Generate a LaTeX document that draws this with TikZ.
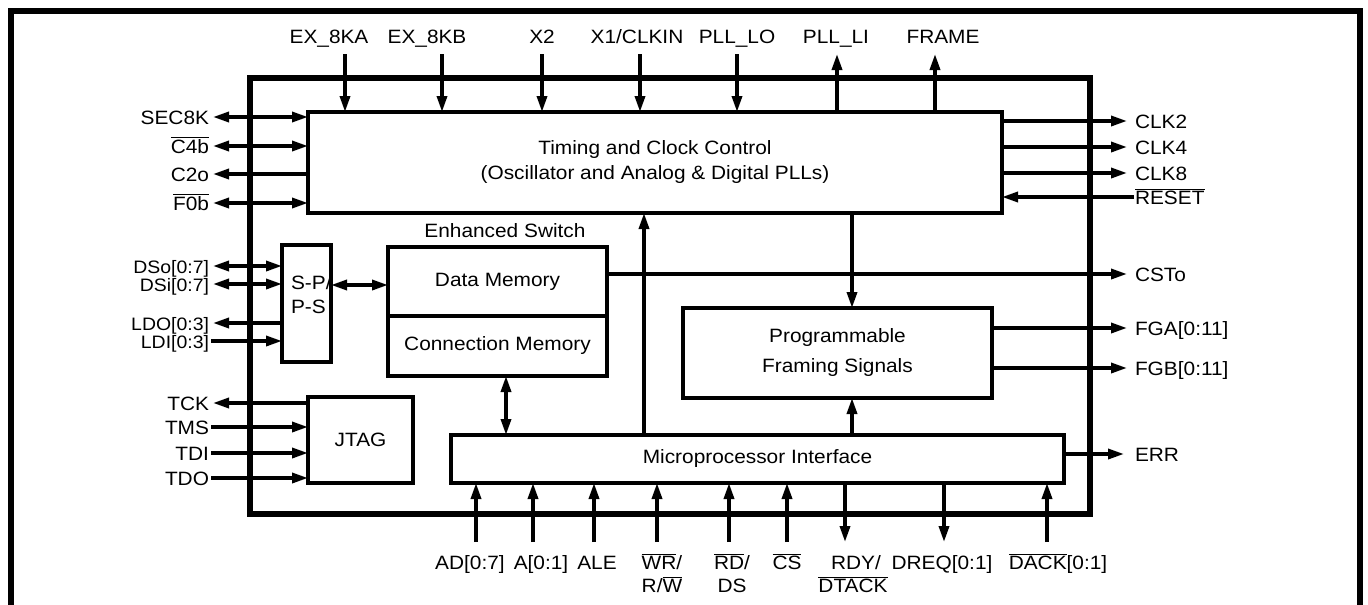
\documentclass[tikz,border=0pt]{standalone}
\usepackage{fontspec}
\setmainfont{Liberation Sans}[FakeStretch=1.08]
\usetikzlibrary{arrows.meta}
\newcommand{\inv}[1]{$\overline{\mbox{#1}}$}

\begin{document}
\begin{tikzpicture}[x=1pt, y=-1pt,
  every node/.style={font=\fontsize{19.3}{25}\selectfont, inner sep=0pt, outer sep=0pt},
  blk/.style={draw, line width=4.5pt, anchor=north west, align=center},
  pin/.style={text height=14pt, text depth=0pt},
  buspin/.style={pin, anchor=east, font=\fontsize{18}{20}\selectfont},
  sig/.style={line width=3.4pt, -{Triangle[length=16pt,width=10pt]}},
  bi/.style={line width=3.4pt, {Triangle[length=16pt,width=10pt]}-{Triangle[length=16pt,width=10pt]}}]
\useasboundingbox (0,0) rectangle (1368,605);
% frame and chip outline
\draw[line width=5.5pt] (11,620) -- (11,11) -- (1360,11) -- (1360,620);
\draw[line width=5.5pt] (250,78) rectangle (1090,514);

% blocks
\node[blk, minimum width=694pt, minimum height=101pt] (tcc) at (308,112) {Timing and Clock Control\\(Oscillator and Analog \& Digital PLLs)};
\node (esw) at (505,231) {Enhanced Switch};
\node[blk, minimum width=219pt, minimum height=69pt] (dm) at (388,247) {Data Memory};
\node[blk, minimum width=219pt, minimum height=60pt] (cm) at (388,316) {Connection Memory};
\node[blk, minimum width=49pt, minimum height=117pt] (sp) at (282,245) {};
\node[anchor=west, align=left, font=\fontsize{19.3}{24}\selectfont] (sptxt) at (291,295) {S-P/\\P-S};
\node[blk, minimum width=105pt, minimum height=86pt] (jtag) at (308,397) {JTAG};
\node[blk, minimum width=309pt, minimum height=90pt, font=\fontsize{19.3}{30}\selectfont] (pfs) at (683,308) {Programmable\\Framing Signals};
\node[blk, minimum width=613pt, minimum height=48pt] (mpi) at (451,435) {Microprocessor Interface};

% top pins
\node[pin] (ex8ka) at (329,36) {EX\_8KA};
\node[pin] (ex8kb) at (427,36) {EX\_8KB};
\node[pin] (xtwo) at (542,36) {X2};
\node[pin] (xone) at (637,36) {X1/CLKIN};
\node[pin] (pllo) at (737,36) {PLL\_LO};
\node[pin] (plli) at (836,36) {PLL\_LI};
\node[pin] (frame) at (943,36) {FRAME};
\coordinate (ex8kaP) at (345,54);
\coordinate (ex8kbP) at (442,54);
\coordinate (xtwoP) at (542,54);
\coordinate (xoneP) at (640,54);
\coordinate (plloP) at (737,54);
\coordinate (plliP) at (837,54);
\coordinate (frameP) at (935,54);
\draw[sig] (ex8kaP) -- (ex8kaP |- tcc.north);
\draw[sig] (ex8kbP) -- (ex8kbP |- tcc.north);
\draw[sig] (xtwoP) -- (xtwoP |- tcc.north);
\draw[sig] (xoneP) -- (xoneP |- tcc.north);
\draw[sig] (plloP) -- (plloP |- tcc.north);
\draw[sig] (plliP |- tcc.north) -- (plliP);
\draw[sig] (frameP |- tcc.north) -- (frameP);

% left pins
\node[pin, anchor=east] (sec8k) at (209,117) {SEC8K};
\node[pin, anchor=east] (cfourb) at (209,146) {\inv{C4b}};
\node[pin, anchor=east] (ctwoo) at (209,174) {C2o};
\node[pin, anchor=east] (fzerob) at (209,203) {\inv{F0b}};
\node[buspin] (dso) at (209,266) {DSo[0:7]};
\node[buspin] (dsi) at (209,284) {DSi[0:7]};
\node[buspin] (ldo) at (209,323) {LDO[0:3]};
\node[buspin] (ldi) at (209,341) {LDI[0:3]};
\node[pin, anchor=east] (tck) at (209,403) {TCK};
\node[pin, anchor=east] (tms) at (209,427) {TMS};
\node[pin, anchor=east] (tdi) at (209,453) {TDI};
\node[pin, anchor=east] (tdo) at (209,478) {TDO};
\coordinate (sec8kP) at (213,117);
\coordinate (cfourbP) at (213,146);
\coordinate (ctwooP) at (213,174);
\coordinate (fzerobP) at (213,203);
\coordinate (dsoP) at (213,266);
\coordinate (dsiP) at (213,284);
\coordinate (ldoP) at (213,323);
\coordinate (ldiP) at (211,341);
\coordinate (tckP) at (213,403);
\coordinate (tmsP) at (211,427);
\coordinate (tdiP) at (211,453);
\coordinate (tdoP) at (211,478);
\draw[bi] (sec8kP) -- (sec8kP -| tcc.west);
\draw[bi] (cfourbP) -- (cfourbP -| tcc.west);
\draw[sig] (ctwooP -| tcc.west) -- (ctwooP);
\draw[bi] (fzerobP) -- (fzerobP -| tcc.west);
\draw[bi] (dsoP) -- (dsoP -| sp.west);
\draw[bi] (dsiP) -- (dsiP -| sp.west);
\draw[sig] (ldoP -| sp.west) -- (ldoP);
\draw[sig] (ldiP) -- (ldiP -| sp.west);
\draw[sig] (tckP -| jtag.west) -- (tckP);
\draw[sig] (tmsP) -- (tmsP -| jtag.west);
\draw[sig] (tdiP) -- (tdiP -| jtag.west);
\draw[sig] (tdoP) -- (tdoP -| jtag.west);

% right pins
\node[pin, anchor=west] (clktwo) at (1135,121) {CLK2};
\node[pin, anchor=west] (clkfour) at (1135,147) {CLK4};
\node[pin, anchor=west] (clkeight) at (1135,173) {CLK8};
\node[pin, anchor=west] (reset) at (1135,197) {\inv{RESET}};
\node[pin, anchor=west] (csto) at (1135,274) {CSTo};
\node[pin, anchor=west] (fga) at (1135,328) {FGA[0:11]};
\node[pin, anchor=west] (fgb) at (1135,368) {FGB[0:11]};
\node[pin, anchor=west] (err) at (1135,454) {ERR};
\coordinate (clktwoP) at (1127,121);
\coordinate (clkfourP) at (1127,147);
\coordinate (clkeightP) at (1127,173);
\coordinate (resetP) at (1134,197);
\coordinate (cstoP) at (1127,274);
\coordinate (fgaP) at (1127,328);
\coordinate (fgbP) at (1127,368);
\coordinate (errP) at (1124,454);
\draw[sig] (clktwoP -| tcc.east) -- (clktwoP);
\draw[sig] (clkfourP -| tcc.east) -- (clkfourP);
\draw[sig] (clkeightP -| tcc.east) -- (clkeightP);
\draw[sig] (resetP) -- (resetP -| tcc.east);
\draw[sig] (cstoP -| dm.east) -- (cstoP);
\draw[sig] (fgaP -| pfs.east) -- (fgaP);
\draw[sig] (fgbP -| pfs.east) -- (fgbP);
\draw[sig] (errP -| mpi.east) -- (errP);

% bottom pins
\node[pin] (ad) at (470,562) {AD[0:7]};
\node[pin] (addr) at (541,562) {A[0:1]};
\node[pin] (ale) at (597,562) {ALE};
\node[pin] (wr) at (662,562) {\inv{WR}/};
\node[pin] (rw) at (662,585) {R/\inv{W}};
\node[pin] (rd) at (732,562) {\inv{RD}/};
\node[pin] (ds) at (732,585) {DS};
\node[pin] (cs) at (787,562) {\inv{CS}};
\node[pin] (rdy) at (856,562) {RDY/};
\node[pin] (dtack) at (853,585) {\inv{DTACK}};
\node[pin] (dreq) at (942,562) {DREQ[0:1]};
\node[pin] (dack) at (1058,562) {\inv{DACK}[0:1]};
\coordinate (adP) at (476,542);
\coordinate (addrP) at (533,542);
\coordinate (aleP) at (594,542);
\coordinate (wrP) at (657,542);
\coordinate (rdP) at (729,542);
\coordinate (csP) at (787,542);
\coordinate (rdyP) at (845,542);
\coordinate (dreqP) at (944,542);
\coordinate (dackP) at (1047,542);
\draw[sig] (adP) -- (adP |- mpi.south);
\draw[sig] (addrP) -- (addrP |- mpi.south);
\draw[sig] (aleP) -- (aleP |- mpi.south);
\draw[sig] (wrP) -- (wrP |- mpi.south);
\draw[sig] (rdP) -- (rdP |- mpi.south);
\draw[sig] (csP) -- (csP |- mpi.south);
\draw[sig] (rdyP |- mpi.south) -- (rdyP);
\draw[sig] (dreqP |- mpi.south) -- (dreqP);
\draw[sig] (dackP) -- (dackP |- mpi.south);

% internal buses
\coordinate (spbus) at (0,285);
\coordinate (cmbus) at (506,0);
\coordinate (clkbus) at (644,0);
\coordinate (frmbus) at (852,0);
\draw[bi] (spbus -| sp.east) -- (spbus -| dm.west);
\draw[bi] (cmbus |- cm.south) -- (cmbus |- mpi.north);
\draw[sig] (clkbus |- mpi.north) -- (clkbus |- tcc.south);
\draw[sig] (frmbus |- tcc.south) -- (frmbus |- pfs.north);
\draw[sig] (frmbus |- mpi.north) -- (frmbus |- pfs.south);
\end{tikzpicture}
\end{document}
